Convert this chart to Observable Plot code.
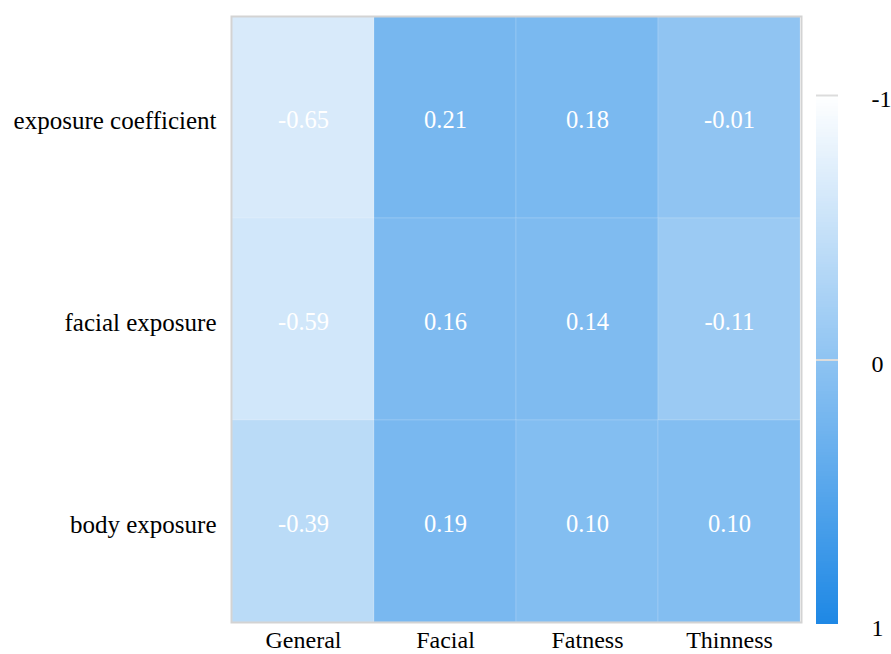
<!DOCTYPE html>
<html>
<head>
<meta charset="utf-8">
<script src="https://cdn.jsdelivr.net/npm/d3@7"></script>
<script src="https://cdn.jsdelivr.net/npm/@observablehq/plot@0.6"></script>
<style>
  html, body { margin: 0; padding: 0; background: #fff; }
  #wrap { position: relative; width: 891px; height: 654px; }
  #wrap svg { position: absolute; top: 0; }
</style>
</head>
<body>
<div id="wrap"></div>
<script>
const rows = ["exposure coefficient", "facial exposure", "body exposure"];
const cols = ["General", "Facial", "Fatness", "Thinness"];
const valExposureCoefficient = [-0.65, 0.21, 0.18, -0.01];
const valFacialExposure = [-0.59, 0.16, 0.14, -0.11];
const valBodyExposure = [-0.39, 0.19, 0.10, 0.10];
const colorbarTicks = [-1, 0, 1];

const series = [valExposureCoefficient, valFacialExposure, valBodyExposure];
const data = [];
rows.forEach((r, i) => cols.forEach((c, j) => data.push({row: r, col: c, v: series[i][j]})));

const fmt = v => v.toFixed(2);
const colorOpts = {type: "linear", domain: [-1, 1], range: ["#ffffff", "#1e88e5"]};
const font = "'Liberation Serif', 'DejaVu Serif', serif";

const main = Plot.plot({
  width: 891,
  height: 654,
  marginLeft: 231,
  marginRight: 90,
  marginTop: 16,
  marginBottom: 32,
  style: {fontFamily: font, fontSize: "24px", color: "#000", background: "transparent"},
  x: {domain: cols, padding: 0, label: null, axis: null},
  y: {domain: rows, padding: 0, label: null, axis: null},
  color: colorOpts,
  marks: [
    Plot.cell(data, {x: "col", y: "row", fill: "v", stroke: "white", strokeOpacity: 0.15, strokeWidth: 1}),
    Plot.text(data, {x: "col", y: "row", text: d => fmt(d.v), fill: "white", fontSize: 24.5, dy: 3}),
    Plot.axisX({anchor: "bottom", tickSize: 0, tickPadding: 8, fontSize: 24, label: null}),
    Plot.axisY({anchor: "left", tickSize: 0, tickPadding: 15, fontSize: 25, dy: 3, label: null}),
    Plot.frame({stroke: "#d3d3d3", strokeWidth: 2})
  ]
});
main.style.left = "0px";
document.getElementById("wrap").appendChild(main);

// colour bar
const step = 0.01;
const grad = d3.range(-1, 1, step);
const bar = Plot.plot({
  width: 91,
  height: 654,
  marginLeft: 16,
  marginRight: 53,
  marginTop: 95,
  marginBottom: 30,
  style: {fontFamily: font, fontSize: "24px", color: "#000", background: "transparent"},
  x: {domain: [0, 1], axis: null},
  y: {domain: [-1, 1], reverse: true, axis: null},
  color: colorOpts,
  marks: [
    Plot.rect(grad, {x1: 0, x2: 1, y1: d => d, y2: d => Math.min(1, d + step * 2), fill: d => d + step / 2, shapeRendering: "crispEdges"}),
    Plot.ruleY([-1, 0], {stroke: "#dcdcdc", strokeWidth: 2}),
    Plot.axisY(colorbarTicks, {anchor: "right", tickSize: 0, tickPadding: 33, fontSize: 24, dy: 4, tickFormat: d => String(d), label: null})
  ]
});
bar.style.left = "800px";
document.getElementById("wrap").appendChild(bar);
</script>
</body>
</html>
